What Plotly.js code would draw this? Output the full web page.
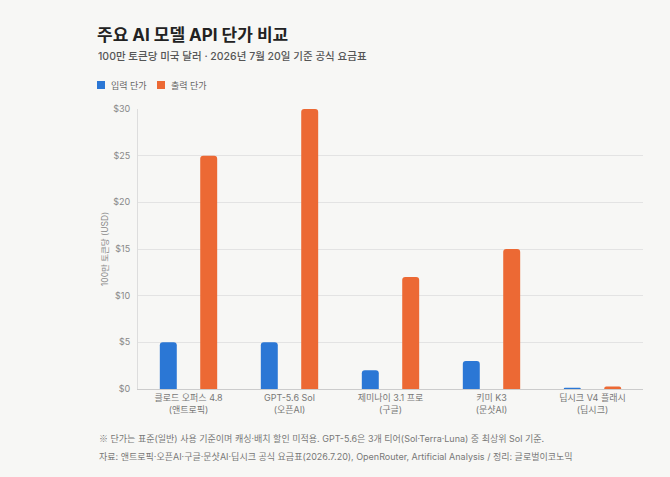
<!DOCTYPE html>
<html>
<head>
<meta charset="utf-8">
<script src="https://cdn.plot.ly/plotly-3.0.1.min.js"></script>
<style>
html,body{margin:0;padding:0;background:#f7f7f5;}
#chart{width:670px;height:477px;}
</style>
</head>
<body>
<div id="chart"></div>
<script>
const categories = [
  "클로드 오퍼스 4.8<br>(앤트로픽)",
  "GPT-5.6 Sol<br>(오픈AI)",
  "제미나이 3.1 프로<br>(구글)",
  "키미 K3<br>(문샷AI)",
  "딥시크 V4 플래시<br>(딥시크)"
];
const inputPrice = [5, 5, 2, 3, 0.14];
const outputPrice = [25, 30, 12, 15, 0.28];
const seriesNames = ["입력 단가", "출력 단가"];
const seriesColors = ["#2b77d5", "#ec6934"];
const yTickVals = [0, 5, 10, 15, 20, 25, 30];
const yTickText = ["$0", "$5", "$10", "$15", "$20", "$25", "$30"];

const FONT = "Inter, Noto Sans CJK KR, sans-serif";
const W = 670, H = 477, L = 138, R = 27, T = 109, B = 88;
const pw = W - L - R, ph = H - T - B;
const px = x => (x - L) / pw;
const py = y => (H - B - y) / ph;

const traces = [
  {type: "bar", name: seriesNames[0], x: categories, y: inputPrice,
   marker: {color: seriesColors[0], cornerradius: 3}, hoverinfo: "skip"},
  {type: "bar", name: seriesNames[1], x: categories, y: outputPrice,
   marker: {color: seriesColors[1], cornerradius: 3}, hoverinfo: "skip"}
];

// custom compact legend (square + label)
const legendX = [97, 157];
const legendShapes = seriesNames.map((n, i) => ({
  type: "rect", xref: "paper", yref: "paper",
  x0: px(legendX[i]), x1: px(legendX[i] + 8), y0: py(89), y1: py(81),
  fillcolor: seriesColors[i], line: {width: 0}
}));
const legendAnns = seriesNames.map((n, i) => ({
  text: n, xref: "paper", yref: "paper", x: px(legendX[i] + 12), y: py(85),
  xanchor: "left", yanchor: "middle", showarrow: false,
  font: {size: 9, color: "#666", family: FONT}
}));

const layout = {
  width: W, height: H,
  margin: {l: L, r: R, t: T, b: B},
  paper_bgcolor: "#f7f7f5", plot_bgcolor: "#f7f7f5",
  font: {family: FONT, color: "#666", size: 9},
  barmode: "group", bargap: 0.2, bargroupgap: 0.58,
  title: {text: "주요 AI 모델 API 단가 비교", x: 97/W, xanchor: "left", xref: "container",
          y: 1 - 35/H, yanchor: "middle", yref: "container",
          font: {family: FONT, size: 17, color: "#222", weight: 700}},
  xaxis: {tickfont: {size: 9, color: "#777"}, showgrid: false, showline: true,
          linecolor: "#ccc", linewidth: 1, ticks: "", fixedrange: true},
  yaxis: {range: [0, 30], tickvals: yTickVals, ticktext: yTickText,
          tickfont: {size: 9, color: "#888"}, gridcolor: "#e3e3e3", gridwidth: 1,
          zeroline: false, showline: true, linecolor: "#ddd", ticks: "", ticklen: 0,
          ticklabelstandoff: 5,
          title: {text: "100만 토큰당 (USD)", font: {size: 8.5, color: "#888"}, standoff: 3}},
  showlegend: false,
  shapes: legendShapes,
  annotations: [
    {text: "100만 토큰당 미국 달러 · 2026년 7월 20일 기준 공식 요금표", xref: "paper", yref: "paper",
     x: px(96), y: py(56), xanchor: "left", yanchor: "middle", showarrow: false,
     font: {size: 10.5, color: "#555", family: FONT, weight: 500}},
    {text: "<span style=\"font-family:'Noto Sans CJK KR'\">※</span> 단가는 표준(일반) 사용 기준이며 캐싱·배치 할인 미적용. GPT-5.6은 3개 티어(Sol·Terra·Luna) 중 최상위 Sol 기준.",
     xref: "paper", yref: "paper", x: px(97), y: py(438), xanchor: "left", yanchor: "middle",
     showarrow: false, font: {size: 9, color: "#777", family: FONT}},
    {text: "자료: 앤트로픽·오픈AI·구글·문샷AI·딥시크 공식 요금표(2026.7.20), OpenRouter, Artificial Analysis / 정리: 글로벌이코노믹",
     xref: "paper", yref: "paper", x: px(97), y: py(456), xanchor: "left", yanchor: "middle",
     showarrow: false, font: {size: 9, color: "#777", family: FONT}}
  ].concat(legendAnns)
};

Plotly.newPlot("chart", traces, layout, {displayModeBar: false, staticPlot: true});
</script>
</body>
</html>
